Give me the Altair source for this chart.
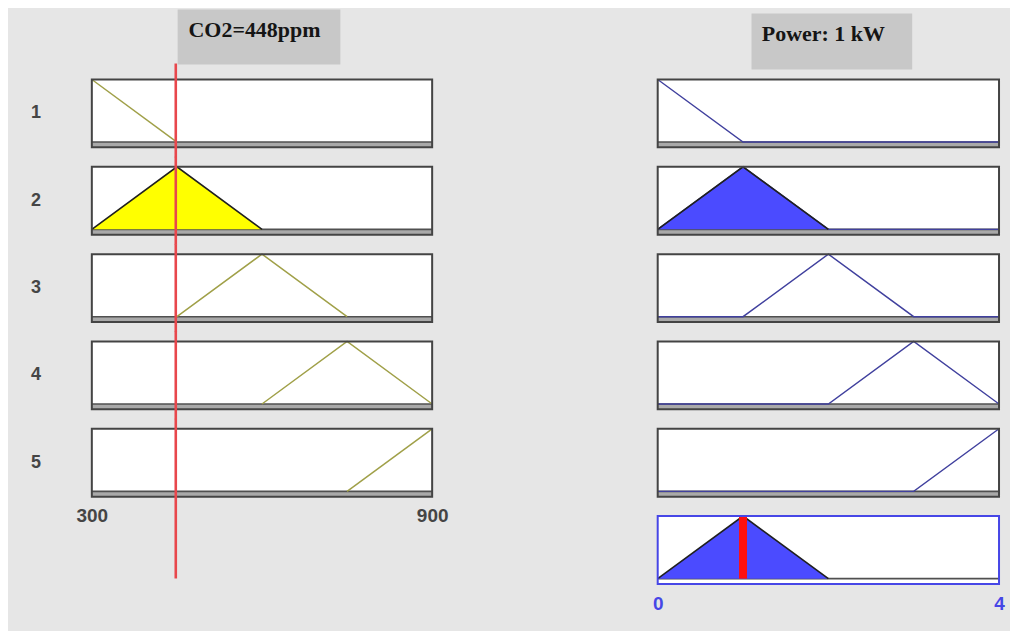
import altair as alt
import pandas as pd

# ---------------- data ----------------
rule_labels = ["1", "2", "3", "4", "5"]
co2_range = [300, 900]
co2_mf_params = [[150, 300, 450], [300, 450, 600], [450, 600, 750], [600, 750, 900], [750, 900, 1050]]
co2_input = 448
co2_fill_degree = [0.0, 1.0, 0.0, 0.0, 0.0]

power_range = [0, 4]
power_mf_params = [[-1, 0, 1], [0, 1, 2], [1, 2, 3], [2, 3, 4], [3, 4, 5]]
power_fill_degree = [0.0, 1.0, 0.0, 0.0, 0.0]
aggregate_params = [0, 1, 2]
power_output = 1

co2_title = "CO2=448ppm"
power_title = "Power: 1 kW"

# ---------------- style ----------------
W_L, W_R, H = 341, 342, 68
Y_DOM = [-0.085, 1.0]
BG = "#e6e6e6"
BORDER = "#444444"
BAND = "#a9a9a9"
OLIVE = "#a0a048"
NAVY = "#40409e"
YELLOW = "#ffff00"
BLUE = "#4b4bff"
RED_LINE = "#e8474c"
AXIS_BLUE = "#4646e6"

dummy = pd.DataFrame({"d": [0]})


def tri_value(p, x):
    a, b, c = p
    if x <= a or x >= c:
        return 1.0 if x == b else 0.0
    if x <= b:
        return (x - a) / (b - a)
    return (c - x) / (c - b)


def tri_vertices(p, lo, hi, full):
    a, b, c = p
    pts = []
    if full and a > lo:
        pts.append((lo, 0.0))
    pts.append((max(a, lo), tri_value(p, max(a, lo))))
    pts.append((b, 1.0))
    pts.append((min(c, hi), tri_value(p, min(c, hi))))
    if full and c < hi:
        pts.append((hi, 0.0))
    return pd.DataFrame({"x": [q[0] for q in pts], "y": [q[1] for q in pts],
                         "y0": [0.0] * len(pts), "o": list(range(len(pts)))})


class Panel:
    def __init__(self, W, lo, hi, axis):
        self.W = W
        self.xs = alt.Scale(domain=[lo, hi], nice=False, zero=False)
        self.ys = alt.Scale(domain=Y_DOM, nice=False, zero=False)
        self.axis = axis

    def X(self, f="x:Q"):
        return alt.X(f, scale=self.xs, axis=self.axis)

    def Y(self, f="y:Q"):
        return alt.Y(f, scale=self.ys, axis=None)

    def under(self, band_color):
        W = self.W
        band_df = pd.DataFrame({"y0": [Y_DOM[0]], "y1": [0.0]})
        box = alt.Chart(dummy).mark_rect(fill="white").encode(
            x=alt.value(0), x2=alt.value(W), y=alt.value(0), y2=alt.value(H))
        band = alt.Chart(band_df).mark_rect(fill=band_color).encode(
            x=alt.value(0), x2=alt.value(W), y=self.Y("y0:Q"), y2="y1:Q")
        base = alt.Chart(band_df).mark_rule(color="#505050", strokeWidth=1.6).encode(
            x=alt.value(0), x2=alt.value(W), y=self.Y("y1:Q"))
        return [box, band, base]

    def frame(self, color):
        return alt.Chart(dummy).mark_rect(fillOpacity=0, stroke=color, strokeWidth=2).encode(
            x=alt.value(0), x2=alt.value(self.W), y=alt.value(0), y2=alt.value(H))

    def fill(self, pts, color):
        return alt.Chart(pts).mark_area(color=color, opacity=1, line=False).encode(
            x=self.X(), y=self.Y(), y2="y0:Q")

    def line(self, pts, color, w):
        return alt.Chart(pts).mark_line(color=color, strokeWidth=w).encode(
            x=self.X(), y=self.Y(), order="o:Q")


def tick_axis(values, color, pad):
    return alt.Axis(values=values, format="d", ticks=False, domain=False, grid=False,
                    labelFlush=False, labelPadding=pad, labelFontSize=19,
                    labelFont="Liberation Sans", labelFontWeight="bold",
                    labelColor=color, title=None)


def left_panel(i):
    lo, hi = co2_range
    axis = tick_axis(co2_range, "#454545", 10) if i == 4 else None
    P = Panel(W_L, lo, hi, axis)
    pts = tri_vertices(co2_mf_params[i], lo, hi, False)
    layers = []
    if i == 0:
        layers.append(alt.Chart(dummy).mark_rect(fill=BG).encode(
            x=alt.value(-83), x2=alt.value(919), y=alt.value(-70), y2=alt.value(551)))
    layers += P.under(BAND)
    if co2_fill_degree[i] > 0:
        layers.append(P.fill(pts, YELLOW))
        layers.append(P.line(pts, "#202020", 1.6))
    else:
        layers.append(P.line(pts, OLIVE, 1.5))
    layers.append(P.frame(BORDER))
    top = -16 if i == 0 else -10
    bottom = H + 82 if i == 4 else H + 10
    layers.append(alt.Chart(pd.DataFrame({"x": [co2_input]})).mark_rule(
        color=RED_LINE, strokeWidth=2.6).encode(
        x=P.X(), y=alt.value(top), y2=alt.value(bottom)))
    layers.append(alt.Chart(dummy).mark_text(
        text=rule_labels[i], font="Liberation Sans", fontWeight="bold", fontSize=18,
        color="#454545").encode(x=alt.value(-56), y=alt.value(H / 2)))
    if i == 0:
        layers.append(alt.Chart(dummy).mark_rect(fill="#c8c8c8").encode(
            x=alt.value(86), x2=alt.value(249), y=alt.value(-70), y2=alt.value(-15)))
        layers.append(alt.Chart(dummy).mark_text(
            text=co2_title, font="Liberation Serif", fontWeight="bold", fontSize=22,
            color="#151515", baseline="alphabetic").encode(x=alt.value(163), y=alt.value(-43)))
    return alt.layer(*layers).properties(width=W_L, height=H)


def right_panel(i):
    lo, hi = power_range
    P = Panel(W_R, lo, hi, None)
    pts = tri_vertices(power_mf_params[i], lo, hi, True)
    layers = P.under(BAND)
    if power_fill_degree[i] > 0:
        fpts = tri_vertices(power_mf_params[i], lo, hi, False)
        layers.append(P.fill(fpts, BLUE))
        layers.append(P.line(pts, NAVY, 1.4))
        layers.append(P.line(fpts, "#202020", 1.6))
    else:
        layers.append(P.line(pts, NAVY, 1.4))
    layers.append(P.frame(BORDER))
    if i == 0:
        layers.append(alt.Chart(dummy).mark_rect(fill="#c8c8c8").encode(
            x=alt.value(94), x2=alt.value(255), y=alt.value(-66), y2=alt.value(-10)))
        layers.append(alt.Chart(dummy).mark_text(
            text=power_title, font="Liberation Serif", fontWeight="bold", fontSize=22,
            color="#151515", baseline="alphabetic").encode(x=alt.value(166), y=alt.value(-39)))
    return alt.layer(*layers).properties(width=W_R, height=H)


def output_panel():
    lo, hi = power_range
    P = Panel(W_R, lo, hi, tick_axis(power_range, AXIS_BLUE, 11))
    pts = tri_vertices(aggregate_params, lo, hi, False)
    layers = P.under("white")
    layers.append(P.fill(pts, BLUE))
    layers.append(P.line(pts, "#202020", 1.6))
    layers.append(alt.Chart(pd.DataFrame({"x": [power_output], "y0": [0.0], "y1": [1.0]})).mark_rule(
        color="#ff1010", strokeWidth=8).encode(x=P.X(), y=P.Y("y0:Q"), y2="y1:Q"))
    layers.append(P.frame(AXIS_BLUE))
    return alt.layer(*layers).properties(width=W_R, height=H)


blank = alt.Chart(dummy).mark_point(opacity=0).encode(
    x=alt.value(0), y=alt.value(0)).properties(width=W_L, height=H)

cells = []
for k in range(5):
    cells.append(left_panel(k))
    cells.append(right_panel(k))
cells.append(blank)
cells.append(output_panel())

chart = alt.concat(
    *cells, columns=2, spacing={"row": 19.5, "column": 226}, bounds="flush"
).resolve_scale(x="independent", y="independent").properties(
    padding=0, background=BG
).configure_view(stroke="transparent")

chart.save("out.html", embed_options={"renderer": "svg", "actions": False})
